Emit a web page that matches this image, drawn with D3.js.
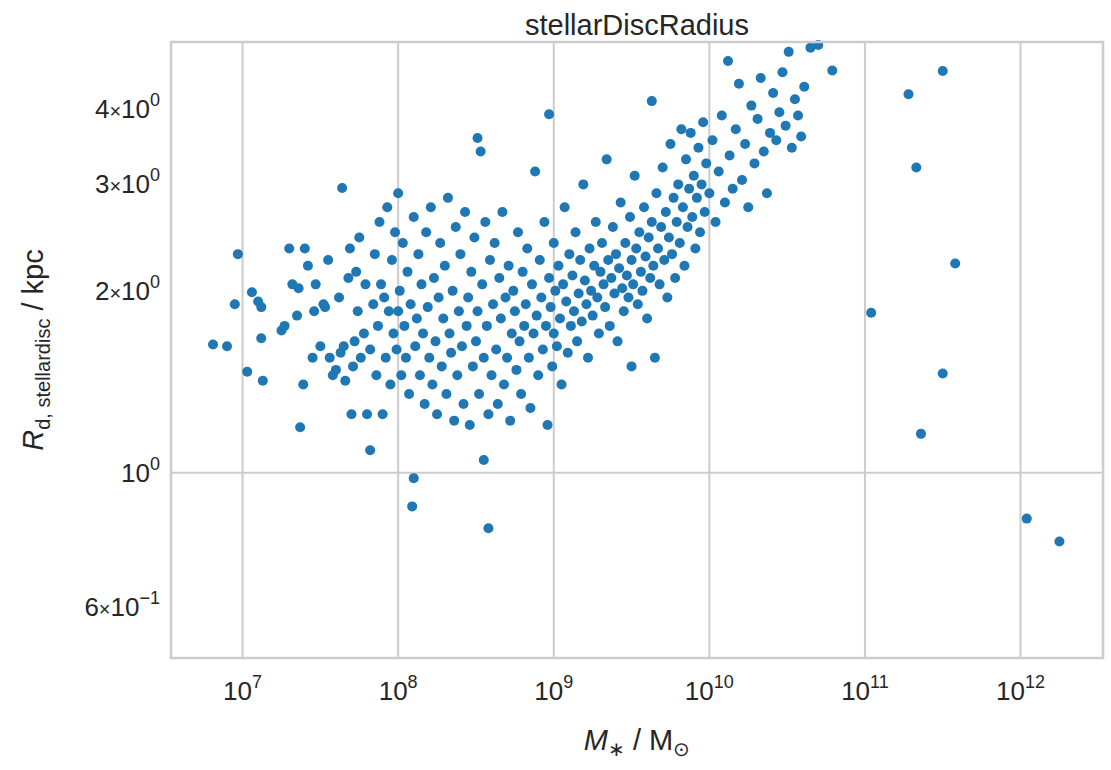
<!DOCTYPE html>
<html>
<head>
<meta charset="utf-8">
<script src="https://cdn.jsdelivr.net/npm/d3@7"></script>
<style>
  body { margin: 0; background: #fff; }
  text { font-family: "Liberation Sans", Arial, sans-serif; fill: #262626; }
</style>
</head>
<body>
<svg id="chart" width="1111" height="770"></svg>
<script>
// [log10 stellar mass, disc radius in kpc]
const galaxies = [
  [6.81,1.63],[6.90,1.62],[6.95,1.90],[6.97,2.30],[7.03,1.47],[7.06,1.99],[7.10,1.92],[7.12,1.88],[7.12,1.67],[7.13,1.42],
  [7.25,1.72],[7.27,1.75],[7.30,2.35],[7.32,2.05],[7.35,1.82],[7.37,1.19],[7.39,1.40],[7.36,2.02],[7.40,2.35],[7.42,2.20],
  [7.45,1.55],[7.46,1.85],[7.47,2.05],[7.50,1.62],[7.52,1.90],[7.53,1.88],[7.55,2.25],[7.56,1.55],[7.58,1.45],[7.60,1.48],
  [7.62,1.95],[7.63,1.58],[7.64,2.96],[7.65,1.62],[7.66,1.42],[7.68,2.10],[7.69,2.35],[7.70,1.25],[7.71,1.50],[7.72,1.65],
  [7.73,2.15],[7.74,1.85],[7.75,2.45],[7.76,1.55],[7.78,1.70],[7.79,2.05],[7.80,1.25],[7.82,1.09],[7.82,1.60],[7.84,1.90],
  [7.85,2.30],[7.86,1.45],[7.87,1.75],[7.88,2.60],[7.89,2.05],[7.90,1.25],[7.91,1.95],[7.92,1.55],[7.93,2.75],[7.94,1.85],
  [7.95,1.40],[7.96,2.25],[7.97,1.70],[7.98,2.50],[7.99,1.60],[8.00,2.90],[8.00,1.85],[8.01,2.00],[8.02,1.45],[8.03,2.40],
  [8.04,1.75],[8.05,1.55],[8.06,2.15],[8.07,1.35],[8.08,1.90],[8.09,0.88],[8.10,0.98],[8.10,2.65],[8.11,1.62],[8.12,1.80],
  [8.13,2.30],[8.14,1.45],[8.15,2.05],[8.16,1.70],[8.17,1.30],[8.18,2.50],[8.19,1.88],[8.20,1.55],[8.21,2.75],[8.22,1.40],
  [8.23,2.10],[8.24,1.65],[8.25,1.25],[8.26,1.95],[8.27,2.40],[8.28,1.50],[8.29,1.80],[8.30,2.20],[8.31,1.35],[8.32,2.85],
  [8.33,1.70],[8.34,1.58],[8.35,2.00],[8.36,1.22],[8.37,2.55],[8.38,1.45],[8.39,1.85],[8.40,2.30],[8.41,1.62],[8.42,1.30],
  [8.43,2.70],[8.44,1.75],[8.45,1.95],[8.46,1.20],[8.47,2.15],[8.48,1.50],[8.49,2.45],[8.50,1.65],[8.51,3.58],[8.51,1.85],
  [8.52,1.35],[8.53,3.40],[8.54,2.05],[8.55,1.05],[8.55,1.55],[8.56,2.60],[8.57,1.75],[8.58,0.81],[8.58,1.25],[8.59,2.25],
  [8.60,1.45],[8.61,1.90],[8.62,2.40],[8.63,1.60],[8.64,1.30],[8.65,2.10],[8.66,1.80],[8.67,2.70],[8.68,1.40],[8.69,1.95],
  [8.70,1.55],[8.71,2.20],[8.72,1.22],[8.73,1.70],[8.74,2.00],[8.75,1.85],[8.76,1.48],[8.77,2.50],[8.78,1.65],[8.79,1.35],
  [8.80,2.15],[8.81,1.75],[8.82,1.90],[8.83,2.35],[8.84,1.55],[8.85,1.28],[8.86,2.05],[8.87,1.70],[8.88,3.15],[8.89,1.82],
  [8.90,1.45],[8.91,2.25],[8.92,1.95],[8.93,1.60],[8.94,2.60],[8.95,1.75],[8.96,1.20],[8.97,3.92],[8.97,2.10],[8.98,1.88],
  [8.99,1.50],[9.00,2.40],[9.00,1.70],[9.01,2.00],[9.02,1.62],[9.03,2.20],[9.04,1.80],[9.05,1.40],[9.06,2.05],[9.07,2.75],
  [9.08,1.92],[9.09,1.58],[9.10,2.30],[9.11,1.75],[9.12,2.12],[9.13,1.85],[9.14,2.50],[9.15,1.65],[9.16,1.98],[9.17,2.25],
  [9.18,1.78],[9.19,3.00],[9.20,2.08],[9.21,1.90],[9.22,1.55],[9.23,2.35],[9.24,2.00],[9.25,1.82],[9.26,2.20],[9.27,2.60],
  [9.28,1.95],[9.29,1.70],[9.30,2.15],[9.31,2.40],[9.32,2.05],[9.33,1.88],[9.34,3.30],[9.35,2.25],[9.36,1.75],[9.37,2.10],
  [9.38,2.55],[9.39,1.98],[9.40,2.30],[9.41,1.65],[9.42,2.18],[9.43,2.80],[9.44,2.02],[9.45,1.85],[9.46,2.40],[9.47,2.12],
  [9.48,1.95],[9.49,2.65],[9.50,2.25],[9.50,1.50],[9.51,2.05],[9.52,3.10],[9.53,2.35],[9.54,1.90],[9.55,2.50],[9.56,2.15],
  [9.57,2.00],[9.58,2.75],[9.59,2.28],[9.60,1.80],[9.61,2.45],[9.62,2.10],[9.63,4.12],[9.63,2.60],[9.64,2.20],[9.65,1.55],
  [9.66,2.90],[9.67,2.35],[9.68,2.05],[9.69,2.55],[9.70,3.20],[9.71,2.25],[9.72,2.70],[9.73,1.95],[9.74,2.45],[9.75,3.50],
  [9.76,2.30],[9.77,2.85],[9.78,2.10],[9.79,2.60],[9.80,3.00],[9.81,2.40],[9.82,3.70],[9.83,2.75],[9.84,2.20],[9.85,3.30],
  [9.86,2.55],[9.87,2.95],[9.88,3.65],[9.89,2.65],[9.90,3.10],[9.91,2.35],[9.92,2.85],[9.93,3.45],[9.94,2.50],[9.95,3.00],
  [9.96,3.80],[9.97,2.70],[9.98,3.25],[10.00,2.90],[10.02,3.55],[10.04,2.60],[10.06,3.15],[10.08,3.90],[10.10,2.80],[10.12,4.80],
  [10.13,3.35],[10.15,2.95],[10.17,3.70],[10.19,4.40],[10.21,3.05],[10.23,3.50],[10.25,2.75],[10.27,4.05],[10.29,3.25],[10.31,3.85],
  [10.33,4.50],[10.35,3.40],[10.37,2.90],[10.39,3.65],[10.41,4.25],[10.43,3.55],[10.45,3.95],[10.47,4.60],[10.49,3.75],[10.51,4.97],
  [10.53,3.45],[10.55,4.15],[10.57,3.90],[10.59,3.60],[10.61,4.35],[10.65,5.05],[10.70,5.10],[10.79,4.63]
];
const massiveGalaxies = [
  [11.04,1.84],[11.28,4.23],[11.33,3.20],[11.50,4.62],[11.58,2.22],[11.50,1.46],[11.36,1.16],[12.04,0.84],[12.25,0.77]
];
const xTickExps = [7, 8, 9, 10, 11, 12];
const yTicks = [
  { v: 4, m: "4", e: "0" }, { v: 3, m: "3", e: "0" }, { v: 2, m: "2", e: "0" },
  { v: 1, m: null, e: "0" }, { v: 0.6, m: "6", e: "\u22121" }
];

const svg = d3.select("#chart");
const plotLeft = 171, plotRight = 1103, plotTop = 42, plotBottom = 658;

const x = d3.scaleLog().domain([Math.pow(10, 6.54), Math.pow(10, 12.53)]).range([plotLeft, plotRight]);
const y = d3.scaleLog().domain([0.494, 5.16]).range([plotBottom, plotTop]);

// grid lines (major only)
svg.append("g").selectAll("line").data(xTickExps).join("line")
  .attr("x1", d => x(Math.pow(10, d))).attr("x2", d => x(Math.pow(10, d)))
  .attr("y1", plotTop).attr("y2", plotBottom)
  .attr("stroke", "#cccccc").attr("stroke-width", 2);
svg.append("line").attr("x1", plotLeft).attr("x2", plotRight).attr("y1", y(1)).attr("y2", y(1))
  .attr("stroke", "#cccccc").attr("stroke-width", 2);

// points
svg.append("g").selectAll("circle").data(galaxies.concat(massiveGalaxies)).join("circle")
  .attr("cx", d => x(Math.pow(10, d[0])))
  .attr("cy", d => y(d[1]))
  .attr("r", 5)
  .attr("fill", "#1f77b4");

// frame
svg.append("rect").attr("x", plotLeft).attr("y", plotTop)
  .attr("width", plotRight - plotLeft).attr("height", plotBottom - plotTop)
  .attr("fill", "none").attr("stroke", "#cccccc").attr("stroke-width", 2.5);

// x tick labels
xTickExps.forEach(e => {
  const t = svg.append("text").attr("x", x(Math.pow(10, e))).attr("y", 700)
    .attr("text-anchor", "middle").attr("font-size", 26);
  t.append("tspan").text("10");
  t.append("tspan").attr("dy", -12).attr("font-size", 18).text(e);
});

// y tick labels
yTicks.forEach(d => {
  const t = svg.append("text").attr("x", 160).attr("y", y(d.v) + 9)
    .attr("text-anchor", "end").attr("font-size", 26);
  if (d.m) {
    t.append("tspan").text(d.m);
    t.append("tspan").attr("font-size", 20).text("\u00d7");
  }
  t.append("tspan").text("10");
  t.append("tspan").attr("dy", -12).attr("font-size", 18).text(d.e);
});

// title and axis labels
svg.append("text").attr("x", (plotLeft + plotRight) / 2).attr("y", 35).attr("text-anchor", "middle")
  .attr("font-size", 29).text("stellarDiscRadius");

const xl = svg.append("text").attr("x", (plotLeft + plotRight) / 2).attr("y", 750)
  .attr("text-anchor", "middle").attr("font-size", 29);
xl.append("tspan").attr("font-style", "italic").text("M");
xl.append("tspan").attr("dy", 6).attr("font-size", 20).text("\u2217");
xl.append("tspan").attr("dy", -6).text(" / M");
xl.append("tspan").attr("dy", 6).attr("font-size", 20).text("\u2299");

const yl = svg.append("text").attr("transform", `translate(43,${(plotTop + plotBottom) / 2}) rotate(-90)`)
  .attr("text-anchor", "middle").attr("font-size", 29);
yl.append("tspan").attr("font-style", "italic").text("R");
yl.append("tspan").attr("dy", 7).attr("font-size", 20).text("d, stellardisc");
yl.append("tspan").attr("dy", -7).text(" / kpc");
</script>
</body>
</html>
